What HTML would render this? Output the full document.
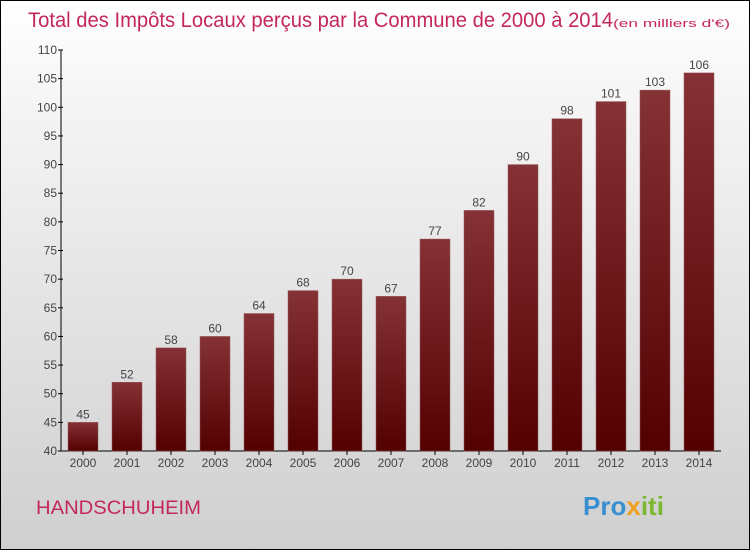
<!DOCTYPE html>
<html><head><meta charset="utf-8"><style>
body{margin:0;width:750px;height:550px;overflow:hidden;font-family:"Liberation Sans",sans-serif}
#wrap{position:relative;width:748px;height:548px;border:1px solid #000;background:linear-gradient(#fff,#f4f4f4 20%,#cfcfcf)}
</style></head><body>
<div id="wrap">
<svg id="chart" width="748" height="548">
<defs><linearGradient id="bg" x1="0" y1="0" x2="0" y2="1"><stop offset="0" stop-color="#843236"/><stop offset="1" stop-color="#520000"/></linearGradient></defs>
<text x="27" y="26" font-size="21" fill="#c4285a" textLength="585" lengthAdjust="spacingAndGlyphs">Total des Impôts Locaux perçus par la Commune de 2000 à 2014</text>
<text x="612" y="26" font-size="11" fill="#c4285a" textLength="117" lengthAdjust="spacingAndGlyphs">(en milliers d'€)</text>
<text x="35" y="513" font-size="19" fill="#c4285a" textLength="165" lengthAdjust="spacingAndGlyphs">HANDSCHUHEIM</text>
<text x="582" y="514" font-size="26" font-weight="bold"><tspan fill="#3a8fd0">Pro</tspan><tspan fill="#f0a020">x</tspan><tspan fill="#7ab830">iti</tspan></text>
<g id="g"></g>
</svg></div>
<script>
const years=["2000","2001","2002","2003","2004","2005","2006","2007","2008","2009","2010","2011","2012","2013","2014"];
const values=[45,52,58,60,64,68,70,67,77,82,90,98,101,103,106];
const yTicks=[40,45,50,55,60,65,70,75,80,85,90,95,100,105,110];
const NS="http://www.w3.org/2000/svg",g=document.getElementById('g');
const x0=60,band=44,yMin=40,yMax=110,yTop=49,yBot=450;
const y=v=>yBot-(v-yMin)/(yMax-yMin)*(yBot-yTop);
const xc=i=>x0+band*(i+0.5);
function mk(t,a){const e=document.createElementNS(NS,t);for(const k in a)e.setAttribute(k,a[k]);g.appendChild(e);return e;}
let ax=mk('line',{x1:x0,y1:yTop,x2:x0,y2:yBot,stroke:'#000'});


let bx=mk('line',{x1:x0,y1:yBot,x2:x0+band*years.length,y2:yBot,stroke:'#000'});


yTicks.forEach(v=>{
 mk('line',{x1:x0-3,y1:y(v),x2:x0+2,y2:y(v),stroke:'#000'});
 const t=mk('text',{x:x0-4,y:y(v)+4,'text-anchor':'end','font-size':12,fill:'#444'});t.textContent=v;
 
 
});
years.forEach((yr,i)=>{
 const b=mk('rect',{x:xc(i)-15,y:y(values[i]),width:30,height:yBot-y(values[i]),fill:'url(#bg)',stroke:'#9a5a5a','stroke-width':0.5});
 
 
 mk('line',{x1:xc(i),y1:yBot,x2:xc(i),y2:yBot+4,stroke:'#000'});
 const t=mk('text',{x:xc(i),y:yBot+16,'text-anchor':'middle','font-size':12,fill:'#444'});t.textContent=yr;
 
 
 const l=mk('text',{x:xc(i),y:y(values[i])-4,'text-anchor':'middle','font-size':12,fill:'#444'});l.textContent=values[i];
 
 
});
</script></body></html>
